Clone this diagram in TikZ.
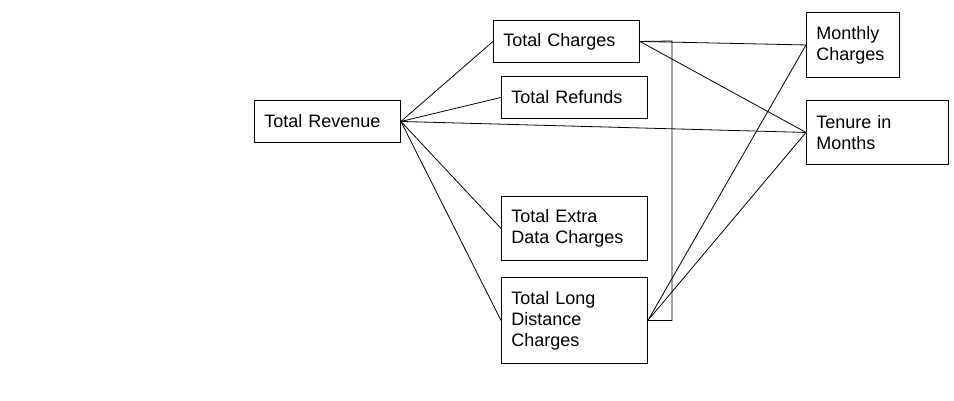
\documentclass[tikz,border=0pt]{standalone}
\usepackage{fontspec}
\setmainfont{Liberation Sans}
\begin{document}
\begin{tikzpicture}[x=1pt,y=-1pt,
  box/.style={draw=black, line width=0.9pt, anchor=north west, inner xsep=10pt, inner ysep=0pt,
    align=left, font=\fontsize{18}{21}\selectfont, text=black},
  link/.style={draw=black, line width=0.8pt}]
\useasboundingbox (0,0) rectangle (954,400);
\node[box, minimum width=146pt, minimum height=42pt, text width=126pt] (rev) at (254,100) {Total Revenue};
\node[box, minimum width=146pt, minimum height=42pt, text width=126pt] (tc) at (493,20) {Total Charges};
\node[box, minimum width=146pt, minimum height=42pt, text width=126pt] (tr) at (501,76) {Total Refunds};
\node[box, minimum width=146pt, minimum height=64pt, text width=126pt] (ted) at (501,196) {Total Extra\\Data Charges};
\node[box, minimum width=146pt, minimum height=86pt, text width=126pt] (tld) at (501,277) {Total Long\\Distance\\Charges};
\node[box, minimum width=93pt, minimum height=65pt, text width=73pt] (mc) at (806,12) {Monthly\\Charges};
\node[box, minimum width=142pt, minimum height=64pt, text width=122pt] (tm) at (806,100) {Tenure in\\Months};
\coordinate (br) at (672,41);
\draw[link] (rev.east) -- (tc.west);
\draw[link] (rev.east) -- (tr.west);
\draw[link] (rev.east) -- (tm.west);
\draw[link] (rev.east) -- (ted.west);
\draw[link] (rev.east) -- (tld.west);
\draw[link] (tc.east) -- (mc.west);
\draw[link] (tc.east) -- (tm.west);
\draw[link] (tc.east) -- (br) |- (tld.east);
\draw[link] (tld.east) -- (mc.west);
\draw[link] (tld.east) -- (tm.west);
\end{tikzpicture}
\end{document}
